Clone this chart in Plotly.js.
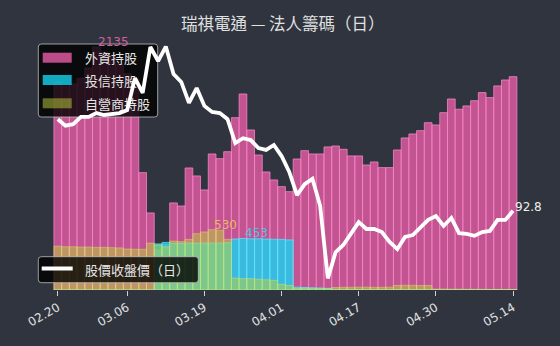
<!DOCTYPE html>
<html><head><meta charset="utf-8">
<script src="https://cdn.plot.ly/plotly-3.0.1.min.js"></script>
<style>
html,body{margin:0;padding:0;background:#2f343f;}
#wrap{position:relative;width:560px;height:346px;}
#chart,#chartTop{position:absolute;left:0;top:0;width:560px;height:346px;}
</style>
</head><body><div id="wrap"><div id="chart"></div><div id="chartTop"></div></div>
<script>
const dates = ['02.20','02.21','02.24','02.25','02.26','02.27','03.03','03.04','03.05','03.06',
  '03.07','03.08','03.10','03.11','03.12','03.13','03.14','03.17','03.18','03.19',
  '03.20','03.21','03.22','03.24','03.25','03.26','03.27','03.28','03.31','04.01',
  '04.02','04.07','04.08','04.09','04.10','04.11','04.14','04.15','04.16','04.17',
  '04.18','04.21','04.22','04.23','04.24','04.25','04.26','04.28','04.29','04.30',
  '05.02','05.03','05.05','05.06','05.07','05.08','05.09','05.12','05.13','05.14'];
const tickDates = ['02.20','03.06','03.19','04.01','04.17','04.30','05.14'];
const seriesNames = ['外資持股','投信持股','自營商持股'];
const priceName = '股價收盤價（日）';
const chartTitle = '瑞祺電通 — 法人籌碼（日）';
const foreign = [1830,1790,1810,1860,1950,2135,2090,2060,1980,1900,
  1860,1031,677,350,400,765,738,1072,1002,879,
  1195,1154,1215,1514,1722,1406,1186,1037,967,908,
  864,1151,1224,1195,1195,1257,1265,1236,1178,1178,
  1098,1125,1075,1075,1230,1336,1371,1400,1470,1450,
  1558,1678,1588,1617,1663,1734,1690,1793,1845,1874];
const trust = [0,0,0,0,0,0,0,0,0,0,
  0,0,0,405,418,410,410,412,412,413,
  413,413,415,448,453,450,450,448,446,445,
  440,25,22,20,18,15,5,5,4,4,
  3,3,3,3,3,3,3,3,2,2,
  2,2,2,2,2,2,2,2,2,2];
const dealer = [385,380,380,378,378,375,375,372,370,360,
  358,358,412,395,380,430,425,445,495,510,
  530,525,445,105,100,100,95,90,85,50,
  40,15,15,14,12,12,22,24,24,25,
  25,24,24,25,40,42,42,40,40,8,
  8,7,7,6,6,6,5,5,5,5];
const price = [116.9,115.2,115.6,117.5,117.5,118.5,118.0,118.3,118.5,119.3,
  127.7,123.8,135.9,132.2,136.0,128.8,126.7,121.2,125.1,120.4,
  118.8,118.5,116.9,110.6,111.9,111.4,109.3,108.8,110.1,107.2,
  103.0,96.9,99.8,101.2,94.1,75.0,81.9,83.8,86.7,89.8,
  88.0,88.0,87.2,84.6,82.7,85.9,86.4,88.5,90.4,91.4,
  88.8,90.9,86.9,86.7,86.2,87.2,87.5,90.4,90.4,92.8];

const colFor = 'rgba(232,92,168,0.8)', colTru = 'rgba(20,215,245,0.78)', colDea = 'rgba(192,212,60,0.5)';
const txt = '#e6e6e6';
const cjk = 'Noto Sans CJK TC, Noto Sans CJK SC, sans-serif';
const num = 'DejaVu Sans, sans-serif';
const xRange = [-0.75, 59.9];
const margin = {l:52, r:40, t:35, b:56, pad:0};

function bar(name, y, color, edge) {
  return {type:'bar', name:name, x:dates, y:y, width:1,
    marker:{color:color, line:{color:edge, width:0.8}}, hoverinfo:'skip', showlegend:false};
}
const barTraces = [
  bar(seriesNames[0], foreign, colFor, 'rgba(255,140,205,0.9)'),
  bar(seriesNames[1], trust, colTru, 'rgba(100,240,255,0.8)'),
  bar(seriesNames[2], dealer, colDea, 'rgba(215,235,100,0.55)')
];
const lineTraces = [
  {type:'scatter', mode:'lines', name:priceName, x:dates, y:price,
   line:{color:'#ffffff', width:3.8, shape:'linear'}, showlegend:false, hoverinfo:'skip'}
];

function peak(arr){ let m=-Infinity, k=0; arr.forEach((v,i)=>{ if(v>m){m=v;k=i;} }); return [k,m]; }
const [fi,fv] = peak(foreign), [ti,tv] = peak(trust), [di,dv] = peak(dealer);
const last = price.length-1;

function rr(x0,y0,x1,y1,rx,ry){
  return `M${x0+rx},${y0} L${x1-rx},${y0} Q${x1},${y0} ${x1},${y0+ry} L${x1},${y1-ry} Q${x1},${y1} ${x1-rx},${y1} L${x0+rx},${y1} Q${x0},${y1} ${x0},${y1-ry} L${x0},${y0+ry} Q${x0},${y0} ${x0+rx},${y0} Z`;
}
// pixel -> paper helpers for the plot area (x 52..520, y 35..290)
const PX = p => (p-52)/468, PY = p => (290-p)/255;
const rx = 3/468, ry = 3/255;
const legendBox = {fillcolor:'rgba(0,0,0,0.8)', line:{color:'rgba(190,190,190,0.8)', width:1}};

// ---- lower layer: bars, their legend, their labels, x axis
const shapesLow = [
  Object.assign({type:'path', xref:'paper', yref:'paper', layer:'above', path: rr(PX(38.3),PY(117),PX(157.7),PY(44),rx,ry)}, legendBox),
  {type:'rect', xref:'paper', yref:'paper', layer:'above', x0:PX(42.7), x1:PX(71.7), y0:PY(62.7), y1:PY(52.7), fillcolor:colFor, line:{width:0}},
  {type:'rect', xref:'paper', yref:'paper', layer:'above', x0:PX(42.7), x1:PX(71.7), y0:PY(85), y1:PY(75), fillcolor:colTru, line:{width:0}},
  {type:'rect', xref:'paper', yref:'paper', layer:'above', x0:PX(42.7), x1:PX(71.7), y0:PY(108.3), y1:PY(98.3), fillcolor:colDea, line:{width:0}}
];
const annLow = [
  {xref:'paper', yref:'paper', x:PX(83), y:PY(57.7), xanchor:'left', yanchor:'middle', text:seriesNames[0], showarrow:false, font:{family:cjk, size:13, color:txt}},
  {xref:'paper', yref:'paper', x:PX(83), y:PY(80.5), xanchor:'left', yanchor:'middle', text:seriesNames[1], showarrow:false, font:{family:cjk, size:13, color:txt}},
  {xref:'paper', yref:'paper', x:PX(83), y:PY(103), xanchor:'left', yanchor:'middle', text:seriesNames[2], showarrow:false, font:{family:cjk, size:13, color:txt}},
  {xref:'x', yref:'y', x:fi, y:fv, xanchor:'left', yanchor:'middle', yshift:5, text:String(fv), showarrow:false, font:{family:num, size:12, color:'#d2609e'}},
  {xref:'x', yref:'y', x:di, y:dv, xanchor:'left', yanchor:'middle', yshift:5, text:String(dv), showarrow:false, font:{family:num, size:12, color:'#e8b860'}},
  {xref:'x', yref:'y', x:ti, y:tv, xanchor:'left', yanchor:'middle', yshift:5, text:String(tv), showarrow:false, font:{family:num, size:12, color:'#48c4e4'}}
];
const layoutLow = {
  width:560, height:346, margin:margin,
  paper_bgcolor:'#2f343f', plot_bgcolor:'#2f343f',
  barmode:'overlay', bargap:0, showlegend:false,
  xaxis:{type:'category', range:xRange, tickmode:'array', tickvals:tickDates, ticktext:tickDates,
         ticks:'outside', ticklen:5, tickwidth:1, tickcolor:'#d0d0d0', tickangle:-30,
         tickfont:{family:num, size:12, color:'#e0e0e0'}, showgrid:false, zeroline:false, showline:false},
  yaxis:{range:[0, 2240], visible:false, showgrid:false, zeroline:false},
  shapes:shapesLow, annotations:annLow
};

// ---- upper layer: price line (drawn over the bar legend, as in the reference), its legend, title
const shapesTop = [
  Object.assign({type:'path', xref:'paper', yref:'paper', layer:'above', path: rr(PX(38.3),PY(282.7),PX(198.3),PY(256.7),rx,ry)}, legendBox),
  {type:'line', xref:'paper', yref:'paper', layer:'above', x0:PX(41.7), x1:PX(72.7), y0:PY(268.5), y1:PY(268.5), line:{color:'#ffffff', width:4}}
];
const annTop = [
  {xref:'paper', yref:'paper', x:PX(83), y:PY(269), xanchor:'left', yanchor:'middle', text:priceName, showarrow:false, font:{family:cjk, size:13, color:txt}},
  {xref:'x', yref:'y', x:last, y:price[last], xanchor:'left', yanchor:'middle', yshift:4, text:price[last].toFixed(1), showarrow:false, font:{family:num, size:12, color:'#eeeeee'}}
];
const layoutTop = {
  width:560, height:346, margin:margin,
  paper_bgcolor:'rgba(0,0,0,0)', plot_bgcolor:'rgba(0,0,0,0)', showlegend:false,
  title:{text:chartTitle, x:0.505, xanchor:'center', y:1-24/346, yref:'container', yanchor:'middle',
         font:{family:cjk, size:16.5, color:'#e0e0e0'}},
  xaxis:{type:'category', range:xRange, visible:false, showgrid:false, zeroline:false},
  yaxis:{range:[71.95, 139.05], visible:false, showgrid:false, zeroline:false},
  shapes:shapesTop, annotations:annTop
};
Plotly.newPlot('chart', barTraces, layoutLow, {staticPlot:true, displayModeBar:false});
Plotly.newPlot('chartTop', lineTraces, layoutTop, {staticPlot:true, displayModeBar:false});
</script></body></html>
